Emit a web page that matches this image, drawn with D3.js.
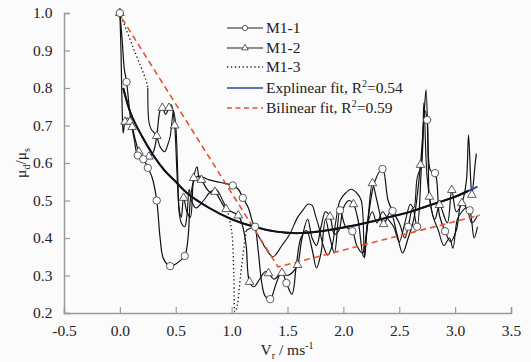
<!DOCTYPE html>
<html>
<head>
<meta charset="utf-8">
<script src="https://cdn.jsdelivr.net/npm/d3@7"></script>
<style>
  body { margin: 0; background: #fbfbfb; }
  svg { display: block; }
</style>
</head>
<body>
<div id="chart"></div>
<script>
// [V_r, mu_d/mu_s, marker?]
const m11 = [[0.00,1.00,1],[0.02,0.93],[0.04,0.85],[0.06,0.816,1],[0.08,0.76],[0.10,0.71],[0.13,0.66],[0.16,0.62,1],[0.21,0.61,1],[0.25,0.587,1],[0.29,0.56],[0.33,0.50,1],[0.36,0.40],[0.39,0.345],[0.45,0.325,1],[0.52,0.335],[0.58,0.352,1],[0.61,0.40],[0.63,0.50],[0.66,0.55],[0.70,0.565],[0.80,0.555],[0.90,0.548],[1.01,0.54,1],[1.06,0.53],[1.10,0.507,1],[1.15,0.48],[1.19,0.44],[1.21,0.43,1],[1.24,0.36],[1.27,0.28],[1.30,0.245],[1.345,0.237,1],[1.40,0.28],[1.45,0.31],[1.49,0.28,1],[1.54,0.25],[1.58,0.33],[1.62,0.40],[1.67,0.42],[1.72,0.37],[1.76,0.32],[1.80,0.36],[1.84,0.45],[1.88,0.40],[1.92,0.36],[1.97,0.474,1],[2.02,0.43],[2.08,0.418,1],[2.12,0.38],[2.17,0.36],[2.22,0.45],[2.28,0.55],[2.35,0.584,1],[2.40,0.50],[2.44,0.472,1],[2.50,0.44],[2.55,0.40],[2.58,0.43,1],[2.62,0.48],[2.66,0.43,1],[2.70,0.60],[2.73,0.74],[2.75,0.715,1],[2.78,0.58],[2.82,0.573,1],[2.86,0.46],[2.91,0.418,1],[2.96,0.39],[3.01,0.42],[3.06,0.50],[3.10,0.48],[3.13,0.474,1],[3.17,0.40],[3.20,0.43]];

const m12 = [[0.00,1.00,1],[0.01,0.90],[0.02,0.75],[0.03,0.68],[0.046,0.71,1],[0.07,0.72],[0.09,0.71,1],[0.11,0.696,1],[0.14,0.66],[0.17,0.63,1],[0.21,0.615],[0.26,0.617,1],[0.30,0.63],[0.33,0.672,1],[0.36,0.74],[0.38,0.747,1],[0.41,0.73],[0.44,0.747,1],[0.46,0.755],[0.49,0.70,1],[0.51,0.58],[0.53,0.48],[0.55,0.455],[0.57,0.507,1],[0.60,0.47],[0.63,0.455],[0.66,0.56,1],[0.69,0.59],[0.71,0.56],[0.73,0.555,1],[0.78,0.53],[0.82,0.52],[0.85,0.523,1],[0.90,0.50],[0.95,0.477,1],[1.00,0.47],[1.06,0.46,1],[1.10,0.43],[1.13,0.38],[1.16,0.283,1],[1.20,0.27],[1.25,0.29],[1.30,0.31],[1.33,0.306,1],[1.38,0.29],[1.42,0.30],[1.45,0.307,1],[1.50,0.30],[1.55,0.31],[1.59,0.328,1],[1.63,0.40],[1.68,0.45],[1.72,0.40],[1.76,0.38],[1.80,0.43],[1.84,0.47],[1.88,0.457,1],[1.92,0.41],[1.96,0.42],[2.00,0.48],[2.05,0.50],[2.09,0.49,1],[2.13,0.45],[2.18,0.35],[2.22,0.45],[2.26,0.546,1],[2.30,0.50],[2.36,0.437,1],[2.42,0.47],[2.48,0.41],[2.53,0.36],[2.58,0.40],[2.63,0.45],[2.69,0.595,1],[2.72,0.72],[2.74,0.795],[2.76,0.60],[2.77,0.51,1],[2.82,0.45],[2.86,0.488,1],[2.93,0.44],[2.97,0.528,1],[3.01,0.47],[3.06,0.493,1],[3.10,0.55],[3.12,0.675],[3.14,0.55],[3.15,0.515,1],[3.18,0.60],[3.19,0.625]];

const m13 = [[0.00,1.00],[0.12,0.907],[0.24,0.815],[0.25,0.80],[0.26,0.71],[0.28,0.69],[0.30,0.683],[0.33,0.67],[0.36,0.643],[0.40,0.63],[0.43,0.65],[0.45,0.67],[0.48,0.74],[0.50,0.70],[0.52,0.55],[0.53,0.47],[0.55,0.44],[0.58,0.43],[0.60,0.46],[0.62,0.53],[0.64,0.50],[0.68,0.48],[0.75,0.50],[0.80,0.52],[0.86,0.53],[0.92,0.50],[0.96,0.475],[1.00,0.42],[1.02,0.30],[1.03,0.203],[1.05,0.22],[1.08,0.30],[1.10,0.35],[1.13,0.42],[1.19,0.427],[1.25,0.40],[1.31,0.37],[1.37,0.35],[1.45,0.38],[1.52,0.41],[1.59,0.455],[1.64,0.475],[1.68,0.49],[1.72,0.487],[1.75,0.46],[1.78,0.43],[1.82,0.38],[1.86,0.354],[1.90,0.38],[1.93,0.44],[1.97,0.50],[2.02,0.52],[2.07,0.53],[2.12,0.52],[2.16,0.50],[2.19,0.347],[2.22,0.44],[2.26,0.47],[2.30,0.44],[2.35,0.47],[2.40,0.45],[2.45,0.43],[2.50,0.39],[2.55,0.44],[2.60,0.49],[2.63,0.48],[2.66,0.56],[2.70,0.60],[2.72,0.76],[2.75,0.56],[2.80,0.46],[2.85,0.42],[2.90,0.38],[2.95,0.40],[2.98,0.373],[3.02,0.45],[3.06,0.47],[3.10,0.48],[3.15,0.44],[3.20,0.46]];

const expFit = [[0.03,0.80],[0.10,0.73],[0.20,0.67],[0.30,0.62],[0.40,0.58],[0.50,0.55],[0.60,0.52],[0.80,0.48],[1.00,0.45],[1.20,0.43],[1.40,0.417],[1.60,0.413],[1.80,0.418],[2.00,0.428],[2.20,0.44],[2.40,0.455],[2.60,0.47],[2.80,0.49],[3.00,0.51],[3.20,0.537]];
const biFit = [[0.02,0.985],[1.415,0.323],[3.22,0.461]];

const xTicks = [-0.5, 0.0, 0.5, 1.0, 1.5, 2.0, 2.5, 3.0, 3.5];
const yTicks = [0.2, 0.3, 0.4, 0.5, 0.6, 0.7, 0.8, 0.9, 1.0];

const width = 531, height = 362;
const margin = { top: 13, right: 20, bottom: 49, left: 64 };
const serif = "Tinos, 'Times New Roman', Times, 'Liberation Serif', 'Nimbus Roman', 'FreeSerif', 'Noto Serif', 'DejaVu Serif', serif";

const svg = d3.select('#chart').append('svg')
  .attr('width', width)
  .attr('height', height)
  .style('font-family', serif);

const x = d3.scaleLinear().domain([-0.5, 3.5]).range([margin.left, width - margin.right]);
const y = d3.scaleLinear().domain([0.2, 1.0]).range([height - margin.bottom, margin.top]);

const axisColor = '#9a9a9a';
const fmt = d => d.toFixed(1);

// axes
const xAxis = d3.axisBottom(x).tickValues(xTicks).tickSize(-6).tickPadding(10).tickFormat(fmt);
const yAxis = d3.axisLeft(y).tickValues(yTicks).tickSize(-6).tickPadding(10).tickFormat(fmt);

const gx = svg.append('g').attr('transform', `translate(0,${y(0.2)})`).call(xAxis);
const gy = svg.append('g').attr('transform', `translate(${x(-0.5)},0)`).call(yAxis);
[gx, gy].forEach(g => {
  g.attr('font-family', null).attr('font-size', null);
  g.select('.domain').attr('stroke', axisColor).attr('stroke-width', 1.5);
  g.selectAll('.tick line').attr('stroke', axisColor).attr('stroke-width', 1.2);
  g.selectAll('.tick text')
    .attr('fill', '#222')
    .style('font-size', '15.5px');
});
gx.selectAll('.tick text').attr('dy', '0.85em');
gy.selectAll('.tick text').attr('dx', '-0.1em');

const line = d3.line().x(d => x(d[0])).y(d => y(d[1])).curve(d3.curveCatmullRom.alpha(0.5));
const straight = d3.line().x(d => x(d[0])).y(d => y(d[1]));

const plot = svg.append('g');

// M1-3: sparse stretches render dotted, dense stretches look solid
const dottedRuns = [[0, 3], [26, 33]];
let prev = 0;
dottedRuns.forEach(([a, b]) => {
  if (a > prev) {
    plot.append('path').datum(m13.slice(prev, a + 1))
      .attr('fill', 'none').attr('stroke', '#111').attr('stroke-width', 1.1).attr('d', line);
  }
  plot.append('path').datum(m13.slice(a, b + 1))
    .attr('fill', 'none').attr('stroke', '#111').attr('stroke-width', 1.3)
    .attr('stroke-dasharray', '1.3,2.6').attr('d', line);
  prev = b;
});
plot.append('path').datum(m13.slice(prev))
  .attr('fill', 'none').attr('stroke', '#111').attr('stroke-width', 1.1).attr('d', line);

plot.append('path').datum(m12)
  .attr('fill', 'none').attr('stroke', '#111').attr('stroke-width', 1.2).attr('d', line);
plot.append('path').datum(m11)
  .attr('fill', 'none').attr('stroke', '#111').attr('stroke-width', 1.2).attr('d', line);

// fits
plot.append('path').datum(biFit)
  .attr('fill', 'none').attr('stroke', '#e5532f').attr('stroke-width', 1.6)
  .attr('stroke-dasharray', '6,4').attr('d', straight);
plot.append('path').datum(expFit)
  .attr('fill', 'none').attr('stroke', '#2b45a8').attr('stroke-width', 1.8).attr('d', line);
plot.append('path').datum(expFit.filter(d => d[0] <= 3.0).concat([[3.12, 0.526]]))
  .attr('fill', 'none').attr('stroke', '#111').attr('stroke-width', 2).attr('d', line);

// markers
const tri = d3.symbol().type(d3.symbolTriangle).size(32);
plot.selectAll('.tri').data(m12.filter(d => d[2])).join('path')
  .attr('transform', d => `translate(${x(d[0])},${y(d[1])})`)
  .attr('d', tri).attr('fill', '#fff').attr('stroke', '#333').attr('stroke-width', 0.8);
plot.selectAll('.circ').data(m11.filter(d => d[2])).join('circle')
  .attr('cx', d => x(d[0])).attr('cy', d => y(d[1])).attr('r', 3.7)
  .attr('fill', '#fff').attr('stroke', '#333').attr('stroke-width', 0.8);

// legend
const legend = svg.append('g').attr('transform', 'translate(227,0)');
const rows = [
  { label: 'M1-1', y: 28, type: 'circle' },
  { label: 'M1-2', y: 48, type: 'tri' },
  { label: 'M1-3', y: 67, type: 'dot' },
  { label: 'Explinear fit, R', r2: '=0.54', y: 88, type: 'blue' },
  { label: 'Bilinear fit, R', r2: '=0.59', y: 108, type: 'red' }
];
rows.forEach(r => {
  const ln = legend.append('line').attr('x1', 0).attr('x2', 36).attr('y1', r.y).attr('y2', r.y)
    .attr('fill', 'none');
  if (r.type === 'circle' || r.type === 'tri') ln.attr('stroke', '#222').attr('stroke-width', 1.2);
  if (r.type === 'dot') ln.attr('stroke', '#222').attr('stroke-width', 1.3).attr('stroke-dasharray', '1.3,2.6');
  if (r.type === 'blue') ln.attr('stroke', '#2b45a8').attr('stroke-width', 1.5);
  if (r.type === 'red') ln.attr('stroke', '#e5532f').attr('stroke-width', 1.5).attr('stroke-dasharray', '5,3.5');
  if (r.type === 'circle') legend.append('circle').attr('cx', 18).attr('cy', r.y).attr('r', 2.6)
    .attr('fill', '#fff').attr('stroke', '#333').attr('stroke-width', 0.8);
  if (r.type === 'tri') legend.append('path').attr('transform', `translate(18,${r.y})`)
    .attr('d', d3.symbol().type(d3.symbolTriangle).size(18)).attr('fill', '#fff').attr('stroke', '#333').attr('stroke-width', 0.8);
  const t = legend.append('text').attr('x', 39).attr('y', r.y + 5)
    .style('font-size', '15.5px').attr('fill', '#222').text(r.label);
  if (r.r2) {
    t.append('tspan').attr('dy', -6).style('font-size', '10px').text('2');
    t.append('tspan').attr('dy', 6).text(r.r2);
  }
});

// axis titles
const yt = svg.append('text')
  .attr('transform', 'translate(26,163) rotate(-90)')
  .attr('text-anchor', 'middle').style('font-size', '15.5px').attr('fill', '#222');
yt.append('tspan').text('μ');
yt.append('tspan').attr('dy', 4).style('font-size', '10px').text('d');
yt.append('tspan').attr('dy', -4).text('/μ');
yt.append('tspan').attr('dy', 4).style('font-size', '10px').text('s');

const xt = svg.append('text')
  .attr('x', 287).attr('y', 355)
  .attr('text-anchor', 'middle').style('font-size', '15.5px').attr('fill', '#222');
xt.append('tspan').text('V');
xt.append('tspan').attr('dy', 4).style('font-size', '10px').text('r');
xt.append('tspan').attr('dy', -4).text(' / ms');
xt.append('tspan').attr('dy', -6).style('font-size', '10px').text('-1');
</script>
</body>
</html>
